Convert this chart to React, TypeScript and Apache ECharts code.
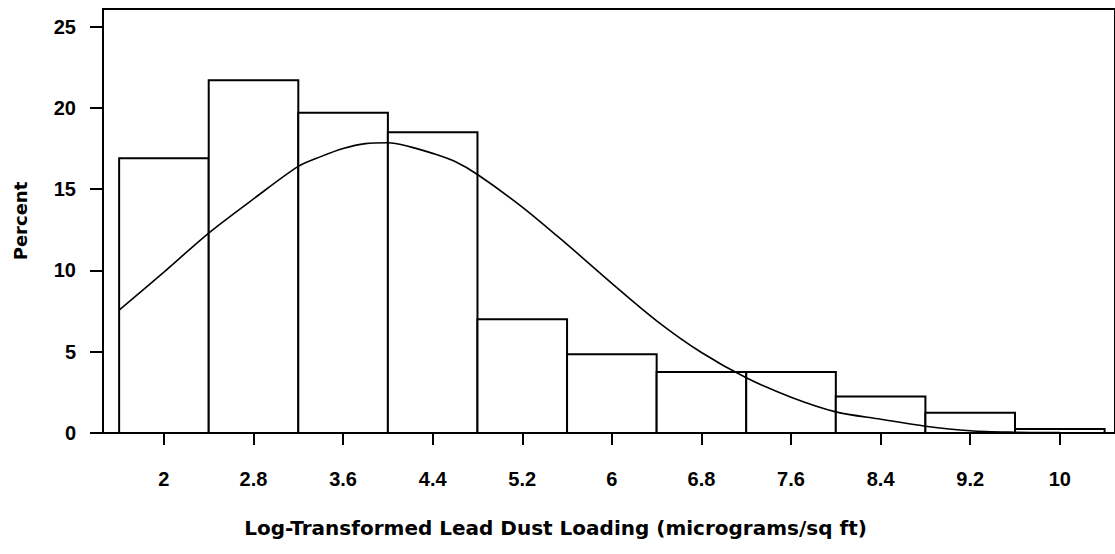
import React, { useEffect, useRef } from "react";
import * as echarts from "echarts";

// Histogram bins (lower edge, upper edge) and percentages
const binLower = [1.6, 2.4, 3.2, 4.0, 4.8, 5.6, 6.4, 7.2, 8.0, 8.8, 9.6];
const binUpper = [2.4, 3.2, 4.0, 4.8, 5.6, 6.4, 7.2, 8.0, 8.8, 9.6, 10.4];
const binPercent = [16.9, 21.7, 19.7, 18.5, 7.0, 4.85, 3.75, 3.75, 2.25, 1.25, 0.25];

// Fitted normal curve
const curveX = [1.6, 2.0, 2.4, 2.8, 3.2, 3.4, 3.6, 3.8, 4.0, 4.2, 4.4, 4.6, 4.8, 5.2, 5.6, 6.0, 6.4, 6.8, 7.2, 7.6, 8.0, 8.4, 8.8, 9.2, 9.6, 10.0, 10.4];
const curveY = [7.56, 9.9, 12.3, 14.4, 16.4, 17.0, 17.5, 17.8, 17.85, 17.6, 17.2, 16.7, 15.9, 13.9, 11.6, 9.2, 6.9, 4.95, 3.4, 2.2, 1.3, 0.85, 0.42, 0.14, 0.05, 0.02, 0.01];

// Axis ticks
const xTickValues = [2, 2.8, 3.6, 4.4, 5.2, 6, 6.8, 7.6, 8.4, 9.2, 10];
const xTickLabels = ["2", "2.8", "3.6", "4.4", "5.2", "6", "6.8", "7.6", "8.4", "9.2", "10"];
const yTickValues = [0, 5, 10, 15, 20, 25];

const FONT = "'Liberation Sans', Arial, sans-serif";
const NAME_FONT = "'DejaVu Sans', 'Liberation Sans', sans-serif";

export default function App() {
  const ref = useRef<HTMLDivElement>(null);
  useEffect(() => {
    if (!ref.current) return;
    const chart = echarts.init(ref.current, undefined, { renderer: "svg" });
    const histData = binLower.map((lo, i) => [lo, binUpper[i], binPercent[i]]);
    const curveData = curveX.map((x, i) => [x, curveY[i]]);
    chart.setOption({
      animation: false,
      backgroundColor: "#fff",
      grid: {
        left: 103,
        top: 9,
        width: 1013,
        height: 424,
        show: true,
        borderColor: "#000",
        borderWidth: 2,
        backgroundColor: "transparent",
      },
      xAxis: {
        type: "value",
        min: 1.456,
        max: 10.493,
        splitLine: { show: false },
        axisLine: { show: true, onZero: false, lineStyle: { color: "#000", width: 2 } },
        axisTick: { show: true, length: 12, lineStyle: { color: "#000", width: 2 }, customValues: xTickValues },
        axisLabel: {
          customValues: xTickValues,
          formatter: (v: number) => {
            const idx = xTickValues.findIndex((t) => Math.abs(t - v) < 1e-6);
            return idx >= 0 ? xTickLabels[idx] : "";
          },
          color: "#000",
          fontFamily: FONT,
          fontWeight: "bold",
          fontSize: 20,
          margin: 36,
        },
        name: "Log-Transformed Lead Dust Loading (micrograms/sq ft)",
        nameLocation: "middle",
        nameGap: 85,
        nameTextStyle: {
          color: "#000",
          fontFamily: NAME_FONT,
          fontWeight: "bold",
          fontSize: 20,
          padding: [0, 107, 0, 0],
        },
      },
      yAxis: {
        type: "value",
        min: 0,
        max: 26.08,
        splitLine: { show: false },
        axisLine: { show: true, lineStyle: { color: "#000", width: 2 } },
        axisTick: { show: true, length: 13, lineStyle: { color: "#000", width: 2 }, customValues: yTickValues },
        axisLabel: {
          customValues: yTickValues,
          color: "#000",
          fontFamily: FONT,
          fontWeight: "bold",
          fontSize: 20,
          margin: 27,
          verticalAlign: "middle",
          padding: [18, 0, 0, 0],
        },
        name: "Percent",
        nameLocation: "middle",
        nameGap: 74,
        nameTextStyle: { color: "#000", fontFamily: NAME_FONT, fontWeight: "bold", fontSize: 18 },
      },
      series: [
        {
          type: "custom",
          data: histData,
          encode: { x: [0, 1], y: 2 },
          renderItem: (params: any, api: any) => {
            const p0 = api.coord([api.value(0), api.value(2)]);
            const p1 = api.coord([api.value(1), 0]);
            return {
              type: "rect",
              shape: { x: p0[0], y: p0[1], width: p1[0] - p0[0], height: p1[1] - p0[1] },
              style: { fill: "#fff", stroke: "#000", lineWidth: 2 },
            };
          },
          z: 2,
        },
        {
          type: "line",
          data: curveData,
          smooth: 0.3,
          symbol: "none",
          lineStyle: { color: "#000", width: 1.6 },
          z: 3,
        },
      ],
    });
    return () => chart.dispose();
  }, []);
  return (
    <div
      ref={ref}
      style={{ position: "absolute", left: 0, top: 0, width: 1115, height: 554 }}
    />
  );
}
